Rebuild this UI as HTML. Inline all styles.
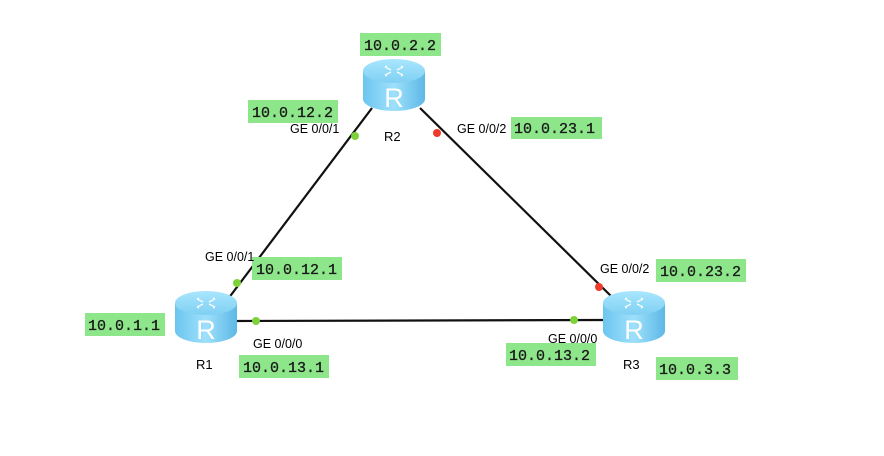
<!DOCTYPE html>
<html><head><meta charset="utf-8"><style>
html,body{margin:0;padding:0;background:#fff;width:884px;height:456px;overflow:hidden}
svg{display:block}
.ip{font-family:"Liberation Mono",monospace;font-size:15px;fill:#1a1a1a;stroke:#1a1a1a;stroke-width:0.3}
.g{font-family:"Liberation Sans",sans-serif;font-size:12.5px;fill:#000}
.n{font-family:"Liberation Sans",sans-serif;font-size:13px;fill:#000}
</style></head><body>
<svg width="884" height="456" viewBox="0 0 884 456">
<defs>
<linearGradient id="body" x1="0" x2="1" y1="0" y2="0">
<stop offset="0" stop-color="#6cc6ef"/><stop offset="0.5" stop-color="#9ee0fb"/><stop offset="1" stop-color="#5db8e6"/>
</linearGradient>
<linearGradient id="top" x1="0" x2="0" y1="0" y2="1">
<stop offset="0" stop-color="#a9e6fd"/><stop offset="1" stop-color="#7fd0f3"/>
</linearGradient>
<g id="rt">
<path d="M0,13 L0,41 A31,12 0 0 0 62,41 L62,13 Z" fill="url(#body)"/>
<ellipse cx="31" cy="13" rx="31" ry="12" fill="url(#top)"/>
<g stroke="#fff" stroke-width="1.3" fill="none" opacity="0.9">
<path d="M22,9 l6,3 M22,9 l2,-1 M40,9 l-6,3 M40,9 l-2,-1 M22,17 l6,-3 M22,17 l2,1 M40,17 l-6,-3 M40,17 l-2,1"/>
</g>
<text x="31" y="49" text-anchor="middle" font-family="Liberation Sans,sans-serif" font-size="27" fill="#fff">R</text>
</g>
</defs>
<g stroke="#111" stroke-width="2.2">
<line x1="228" y1="299" x2="372" y2="108"/>
<line x1="420" y1="108" x2="612" y2="297"/>
<line x1="236" y1="321" x2="604" y2="320"/>
</g>
<use href="#rt" x="175" y="290"/>
<use href="#rt" x="363" y="58"/>
<use href="#rt" x="603" y="290"/>
<g fill="#7dd23a">
<circle cx="237" cy="283" r="4"/><circle cx="256" cy="321" r="4"/>
<circle cx="355" cy="136" r="4"/><circle cx="574" cy="320" r="4"/>
</g>
<g fill="#f03a2a">
<circle cx="437" cy="133" r="4"/><circle cx="599" cy="287" r="4"/>
</g>
<g fill="#8ee68a">
<rect x="360" y="33" width="81" height="23"/>
<rect x="248" y="100" width="90" height="23"/>
<rect x="511" y="117" width="91" height="22"/>
<rect x="252" y="257" width="90" height="23"/>
<rect x="656" y="259" width="90" height="23"/>
<rect x="85" y="313" width="80" height="23"/>
<rect x="239" y="355" width="90" height="23"/>
<rect x="506" y="343" width="90" height="23"/>
<rect x="656" y="357" width="82" height="23"/>
</g>
<g class="ip">
<text x="364" y="50">10.0.2.2</text>
<text x="252" y="117">10.0.12.2</text>
<text x="514" y="133">10.0.23.1</text>
<text x="256" y="274">10.0.12.1</text>
<text x="660" y="276">10.0.23.2</text>
<text x="88" y="330">10.0.1.1</text>
<text x="243" y="372">10.0.13.1</text>
<text x="509" y="360">10.0.13.2</text>
<text x="659" y="374">10.0.3.3</text>
</g>
<g class="g">
<text x="290" y="133">GE 0/0/1</text>
<text x="457" y="133">GE 0/0/2</text>
<text x="205" y="261">GE 0/0/1</text>
<text x="600" y="273">GE 0/0/2</text>
<text x="253" y="348">GE 0/0/0</text>
<text x="548" y="343">GE 0/0/0</text>
</g>
<g class="n">
<text x="384" y="141">R2</text>
<text x="196" y="369">R1</text>
<text x="623" y="369">R3</text>
</g>
</svg>
</body></html>
